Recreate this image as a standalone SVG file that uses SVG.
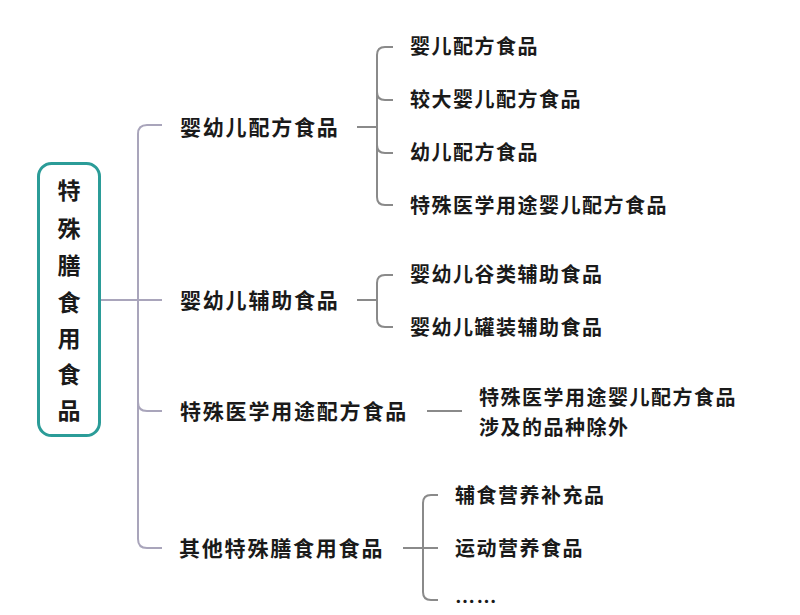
<svg xmlns="http://www.w3.org/2000/svg" width="800" height="615" viewBox="0 0 800 615">
<style>
.bg{fill:#ffffff}
.root{fill:#ffffff;stroke:#2b9c98;stroke-width:3}
.t{font-family:"Noto Sans CJK SC","Noto Sans",sans-serif;fill:#1a1a1a;dominant-baseline:central}
.rt{font-size:23px;font-weight:bold;text-anchor:middle}
.l1{font-size:21px;font-weight:bold;letter-spacing:1.8px}
.l2{font-size:20px;font-weight:600;letter-spacing:1.5px}
.cp{fill:none;stroke:#a9a5bb;stroke-width:2}
.cg{fill:none;stroke:#8a8a8a;stroke-width:2}
</style>
<rect class="bg" x="0" y="0" width="800" height="615"/>
<g id="connectors">
<path class="cp" d="M100,300 H138"/>
<path class="cp" d="M162,125 H147 Q138,125 138,134 V539 Q138,548 147,548 H162"/>
<path class="cp" d="M138,300 H162"/>
<path class="cp" d="M138,402 Q138,411 147,411 H162"/>
<path class="cg" d="M357,127 H377"/>
<path class="cg" d="M393,47 H385 Q377,47 377,55 V197 Q377,205 385,205 H393"/>
<path class="cg" d="M377,92 Q377,100 385,100 H393"/>
<path class="cg" d="M377,145 Q377,153 385,153 H393"/>
<path class="cg" d="M357,300 H377"/>
<path class="cg" d="M393,275 H385 Q377,275 377,283 V319 Q377,327 385,327 H393"/>
<path class="cg" d="M427,411 H462"/>
<path class="cg" d="M403,548 H438"/>
<path class="cg" d="M438,495 H431 Q423,495 423,503 V592 Q423,600 431,600 H438"/>
</g>
<g id="root">
<rect class="root" x="38.5" y="163.5" width="61" height="272" rx="13"/>
<text class="t rt" x="69" y="189">特</text>
<text class="t rt" x="69" y="227">殊</text>
<text class="t rt" x="69" y="264">膳</text>
<text class="t rt" x="69" y="301">食</text>
<text class="t rt" x="69" y="337">用</text>
<text class="t rt" x="69" y="373">食</text>
<text class="t rt" x="69" y="409">品</text>
</g>
<g id="n-infant-formula"><text class="t l1" x="180" y="126">婴幼儿配方食品</text></g>
<g id="n-infant-aux"><text class="t l1" x="180" y="299">婴幼儿辅助食品</text></g>
<g id="n-fsmp"><text class="t l1" x="180" y="410">特殊医学用途配方食品</text></g>
<g id="n-other"><text class="t l1" x="179" y="547">其他特殊膳食用食品</text></g>
<g id="leaf-1"><text class="t l2" x="410" y="45">婴儿配方食品</text></g>
<g id="leaf-2"><text class="t l2" x="410" y="98">较大婴儿配方食品</text></g>
<g id="leaf-3"><text class="t l2" x="410" y="151">幼儿配方食品</text></g>
<g id="leaf-4"><text class="t l2" x="410" y="204">特殊医学用途婴儿配方食品</text></g>
<g id="leaf-5"><text class="t l2" x="410" y="273">婴幼儿谷类辅助食品</text></g>
<g id="leaf-6"><text class="t l2" x="410" y="326">婴幼儿罐装辅助食品</text></g>
<g id="leaf-7"><text class="t l2" x="479" y="396">特殊医学用途婴儿配方食品</text><text class="t l2" x="479" y="426">涉及的品种除外</text></g>
<g id="leaf-8"><text class="t l2" x="455" y="494">辅食营养补充品</text></g>
<g id="leaf-9"><text class="t l2" x="455" y="547">运动营养食品</text></g>
<g id="leaf-10"><text class="t l2" x="455" y="600">……</text></g>
</svg>
